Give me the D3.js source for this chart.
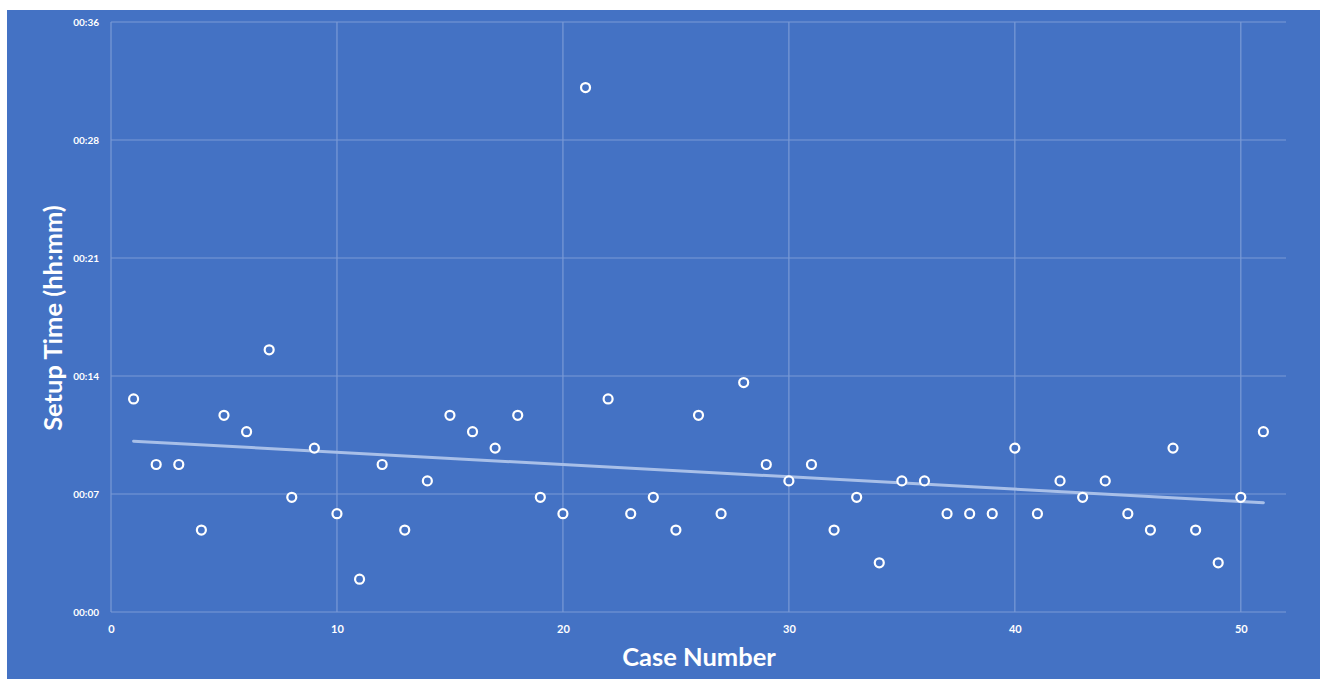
<!DOCTYPE html>
<html><head><meta charset="utf-8">
<script src="https://cdn.jsdelivr.net/npm/d3@7"></script>
<style>
html,body{margin:0;padding:0;background:#fff;}
svg{display:block;}
text{font-family:Lato,"Open Sans",sans-serif;fill:#fff;font-weight:bold;}
</style></head>
<body>
<script>
// Data: case number vs setup time (minutes)
const caseNumbers = d3.range(1, 52);
const setupMinutes = [13,9,9,5,12,11,16,7,10,6,
                      2,9,5,8,12,11,10,12,7,6,
                      32,13,6,7,5,12,6,14,9,8,
                      9,5,7,3,8,8,6,6,6,10,
                      6,8,7,8,6,5,10,5,3,7,11];
const yTickValues = [0, 7.2, 14.4, 21.6, 28.8, 36];
const yTickLabels = ["00:00","00:07","00:14","00:21","00:28","00:36"];
const xTickValues = [0,10,20,30,40,50];

const W = 1324, H = 679;
const svg = d3.select("body").append("svg").attr("width", W).attr("height", H);
svg.append("rect").attr("x",7).attr("y",10).attr("width",1313).attr("height",H-10).attr("fill","#4472C4");

const m = {left:111, top:22, right:1286, bottom:612};
const x = d3.scaleLinear().domain([0,52]).range([m.left, m.right]);
const y = d3.scaleLinear().domain([0,36]).range([m.bottom, m.top]);

const grid = svg.append("g").attr("stroke","#7a9ad6").attr("stroke-width",1.2).attr("fill","none");
yTickValues.forEach(v => grid.append("line").attr("x1",m.left).attr("x2",m.right).attr("y1",y(v)).attr("y2",y(v)));
xTickValues.forEach(v => grid.append("line").attr("x1",x(v)).attr("x2",x(v)).attr("y1",m.top).attr("y2",m.bottom));

// Axes
const yAxis = d3.axisLeft(y).tickValues(yTickValues).tickFormat((d,i)=>yTickLabels[i]).tickSize(0).tickPadding(12);
const gy = svg.append("g").attr("transform",`translate(${m.left},0)`).call(yAxis);
gy.select(".domain").remove();
gy.selectAll("text").style("font-size","10px").attr("fill","#fff");

const xAxis = d3.axisBottom(x).tickValues(xTickValues).tickSize(0).tickPadding(13);
const gx = svg.append("g").attr("transform",`translate(0,${m.bottom})`).call(xAxis);
gx.select(".domain").remove();
gx.selectAll("text").style("font-size","11px").attr("fill","#fff");

// Trendline (least squares from the data)
const mx = d3.mean(caseNumbers), my = d3.mean(setupMinutes);
let sxy=0, sxx=0;
caseNumbers.forEach((c,i)=>{ sxy += (c-mx)*(setupMinutes[i]-my); sxx += (c-mx)*(c-mx); });
const slope = sxy/sxx, icpt = my - slope*mx;
const x0 = caseNumbers[0], x1 = caseNumbers[caseNumbers.length-1];
svg.append("line").attr("x1",x(x0)).attr("y1",y(icpt+slope*x0)).attr("x2",x(x1)).attr("y2",y(icpt+slope*x1))
  .attr("stroke","#a8bfe8").attr("stroke-width",3).attr("stroke-linecap","round");

// Points
svg.append("g").selectAll("circle").data(caseNumbers).join("circle")
  .attr("cx",d=>x(d)).attr("cy",(d,i)=>y(setupMinutes[i])).attr("r",4.5)
  .attr("fill","#4472C4").attr("stroke","#fff").attr("stroke-width",2.2);

// Titles
svg.append("text").attr("x",699).attr("y",666).attr("text-anchor","middle").style("font-size","25.5px").text("Case Number");
svg.append("text").attr("transform","translate(62,318) rotate(-90)").attr("text-anchor","middle").style("font-size","25.5px").text("Setup Time (hh:mm)");
</script>
</body></html>
